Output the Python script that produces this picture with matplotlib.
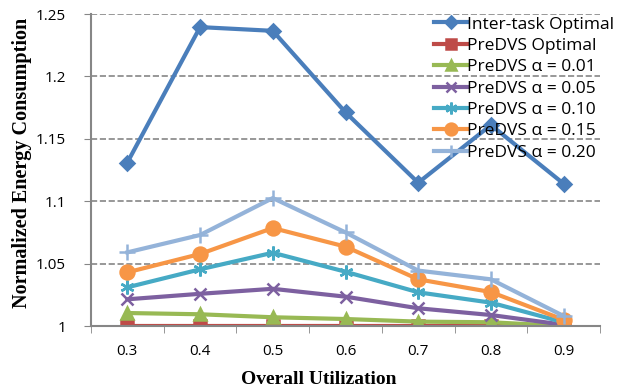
import numpy as np
import matplotlib.pyplot as plt

utilization = ["0.3", "0.4", "0.5", "0.6", "0.7", "0.8", "0.9"]
inter_task = [1.131, 1.2395, 1.2365, 1.1712, 1.1148, 1.161, 1.114]
predvs_opt = [1.0, 1.0, 1.0, 1.0, 1.0, 1.0, 1.0]
alpha_001 = [1.0104, 1.0094, 1.007, 1.0056, 1.0035, 1.003, 1.0]
alpha_005 = [1.0214, 1.0258, 1.0298, 1.0235, 1.0142, 1.0088, 1.001]
alpha_010 = [1.031, 1.0454, 1.0587, 1.0435, 1.027, 1.0187, 1.003]
alpha_015 = [1.043, 1.0577, 1.0785, 1.0636, 1.0374, 1.0272, 1.005]
alpha_020 = [1.059, 1.0729, 1.1025, 1.075, 1.0444, 1.0374, 1.008]

series = [
    ("Inter-task Optimal", inter_task, "#4A7EBB", "D", 7),
    ("PreDVS Optimal", predvs_opt, "#BE4B48", "s", 9),
    ("PreDVS \u03b1 = 0.01", alpha_001, "#98B954", "^", 9),
    ("PreDVS \u03b1 = 0.05", alpha_005, "#7D60A0", "x", 9),
    ("PreDVS \u03b1 = 0.10", alpha_010, "#46AAC5", (6, 2, 0), 10),
    ("PreDVS \u03b1 = 0.15", alpha_015, "#F79646", "o", 10),
    ("PreDVS \u03b1 = 0.20", alpha_020, "#94B3D9", "+", 11),
]

plt.rcParams['font.family'] = ['Open Sans', 'DejaVu Sans']

fig = plt.figure(figsize=(6.22, 3.9), dpi=100)
ax = fig.add_axes([91/622, 1-326/390, 509/622, 312/390])

x = np.arange(len(utilization))
for label, vals, color, marker, ms in series:
    ax.plot(x, vals, color=color, lw=3, marker=marker, ms=ms,
            mew=1.8, mec=color, mfc=color, label=label)

ax.set_xlim(-0.5, len(utilization) - 0.5)
ax.set_ylim(1.0, 1.25)
ax.set_yticks([1.0, 1.05, 1.1, 1.15, 1.2, 1.25])
ax.set_yticklabels(["1", "1.05", "1.1", "1.15", "1.2", "1.25"])
ax.set_xticks(x)
ax.set_xticklabels(utilization)
ax.set_xticks(np.arange(-0.5, len(utilization)), minor=True)
ax.tick_params(axis='x', which='major', length=0, pad=13, labelsize=11)
ax.tick_params(axis='x', which='minor', length=5, color="#868686", direction='out')
ax.tick_params(axis='y', length=5, color="#868686", labelsize=11, pad=13)

ax.grid(axis='y', ls='--', color='#868686', lw=1.2)
ax.set_axisbelow(True)
for s in ['top', 'right']:
    ax.spines[s].set_visible(False)
for s in ['left', 'bottom']:
    ax.spines[s].set_color('#868686')
    ax.spines[s].set_linewidth(1.5)

ax.set_xlabel("Overall Utilization", family="Liberation Serif",
              fontweight="bold", fontsize=14)
ax.set_ylabel("Normalized Energy Consumption", family="Liberation Serif",
              fontweight="bold", fontsize=14.5)
ax.xaxis.set_label_coords(0.448, -0.145)
ax.yaxis.set_label_coords(-0.115, 0.522)

ax.legend(loc='upper right', bbox_to_anchor=(625/622, 384/390),
          bbox_transform=fig.transFigure, frameon=False,
          fontsize=12.5, handlelength=1.9, handletextpad=0.0,
          labelspacing=0.3, borderaxespad=0.2, markerscale=0.85)

fig.savefig("out.png", dpi=100)
